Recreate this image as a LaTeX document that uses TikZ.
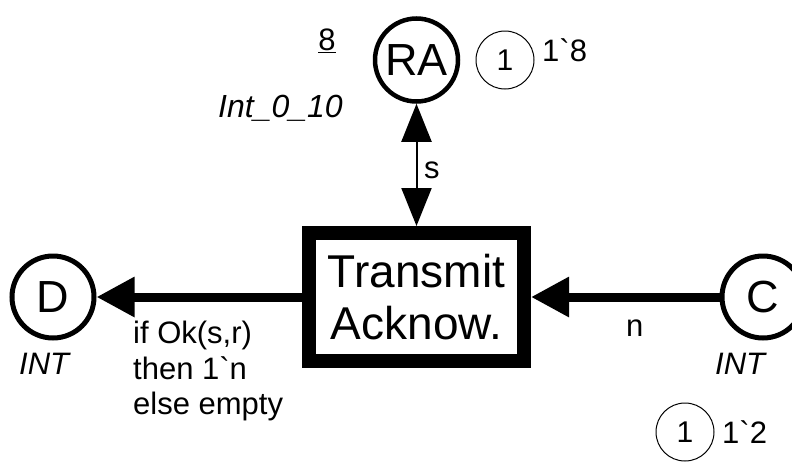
\documentclass[tikz,border=0pt]{standalone}
\usepackage{fontspec}
\setmainfont{Liberation Sans}[Ligatures=TeXOff]
\usetikzlibrary{arrows.meta}
\begin{document}
\begin{tikzpicture}[x=1pt,y=-1pt,
  placenode/.style={circle,draw,line width=4.5pt,minimum size=83pt,inner sep=0pt,font=\fontsize{45}{50}\selectfont},
  transnode/.style={rectangle,draw,line width=14pt,minimum width=215pt,minimum height=128pt,inner sep=0pt,align=center,font=\fontsize{46}{52}\selectfont},
  tokennode/.style={circle,draw,line width=1pt,minimum size=58pt,inner sep=0pt,font=\fontsize{30}{32}\selectfont},
  inscr/.style={inner sep=0pt,font=\fontsize{31}{35.5}\selectfont},
  arc/.style={line width=9pt,-{Triangle[length=38pt,width=38pt]}}]
  \useasboundingbox (0,0) rectangle (792,461);
  \node[transnode] (T) at (416.5,297) {Transmit\\Acknow.};
  \node[placenode] (RA) at (416.5,60) {RA};
  \node[placenode,line width=5pt,minimum size=82pt] (D) at (53,297) {D};
  \node[placenode,line width=5pt,minimum size=82pt] (C) at (763,297) {C};
  \node[tokennode] (tokRA) at (505,60) {1};
  \node[inscr,anchor=base west] (markRA) at (542,61) {1`8};
  \node[tokennode] (tokC) at (685,432) {1};
  \node[inscr,anchor=base west] (markC) at (722,443) {1`2};
  \node[inscr,anchor=base] (initRA) at (327,50) {\underline{8}};
  \node[inscr,anchor=base west,font=\fontsize{32}{40}\selectfont\itshape] (colRA) at (218,117) {Int\_0\_10};
  \node[inscr,anchor=base west,font=\fontsize{31}{40}\selectfont\itshape] (colD) at (19,374) {INT};
  \node[inscr,anchor=base west,font=\fontsize{31}{40}\selectfont\itshape] (colC) at (715,374) {INT};
  \draw[line width=2pt,{Triangle[length=38pt,width=30pt]}-{Triangle[length=38pt,width=30pt]}] (RA) -- (T);
  \draw[arc] (T) -- (D);
  \draw[arc] (C) -- (T);
  \node[inscr,anchor=base west] (sLbl) at (424,178) {s};
  \node[inscr,anchor=base west] (nLbl) at (626,336) {n};
  \node[inscr,anchor=north west,align=left] (exprD) at (133,321) {if Ok(s,r)\\then 1`n\\else empty};
\end{tikzpicture}
\end{document}
